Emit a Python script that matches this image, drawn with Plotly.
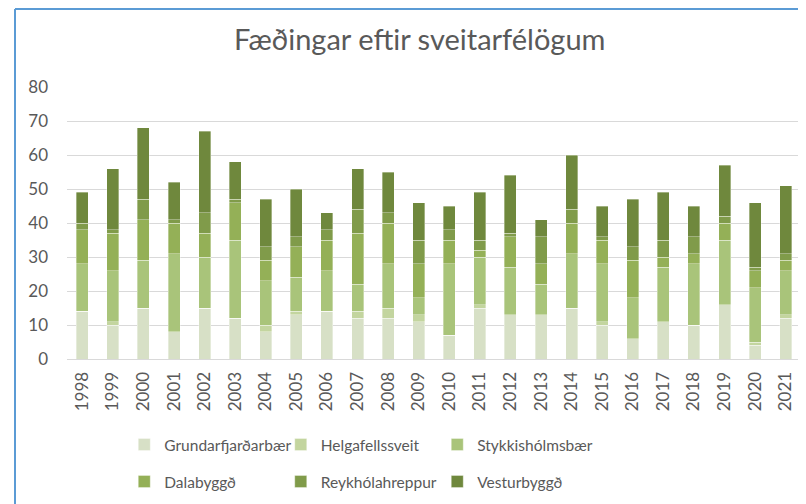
import plotly.graph_objects as go

years = [str(y) for y in range(1998, 2022)]

grundarfjardarbaer = [14, 10, 15, 8, 15, 12, 8, 13, 14, 12, 12, 11, 7, 15, 13, 13, 15, 10, 6, 11, 10, 16, 4, 12]
helgafellssveit = [0, 1, 0, 0, 0, 0, 2, 1, 0, 2, 3, 2, 0, 1, 0, 0, 0, 1, 0, 0, 0, 0, 1, 1]
stykkisholmsbaer = [14, 15, 14, 23, 15, 23, 13, 10, 12, 8, 13, 5, 21, 14, 14, 9, 16, 17, 12, 16, 18, 19, 16, 13]
dalabyggd = [10, 11, 12, 9, 7, 11, 6, 9, 9, 15, 12, 10, 7, 2, 9, 6, 9, 7, 11, 3, 3, 5, 5, 3]
reykholahreppur = [2, 1, 6, 1, 6, 1, 4, 3, 3, 7, 3, 7, 3, 3, 1, 8, 4, 1, 4, 5, 5, 2, 1, 2]
vesturbyggd = [9, 18, 21, 11, 24, 11, 14, 14, 5, 12, 12, 11, 7, 14, 17, 5, 16, 9, 14, 14, 9, 15, 19, 20]

series = [
    ("Grundarfjarðarbær", grundarfjardarbaer, "#D7E0C6", "legend"),
    ("Helgafellssveit", helgafellssveit, "#C3D59F", "legend"),
    ("Stykkishólmsbær", stykkisholmsbaer, "#A9C47A", "legend"),
    ("Dalabyggð", dalabyggd, "#94B057", "legend2"),
    ("Reykhólahreppur", reykholahreppur, "#809B4A", "legend2"),
    ("Vesturbyggð", vesturbyggd, "#6F883D", "legend2"),
]

FONT = "Lato, Arial, sans-serif"
GREY = "#595959"

fig = go.Figure()
for name, vals, color, leg in series:
    fig.add_trace(go.Bar(
        x=years, y=vals, name=name, legend=leg,
        marker=dict(color=color, line=dict(width=0.5, color="rgba(255,255,255,0.7)")),
    ))

legend_style = dict(
    orientation="h", xanchor="left", yanchor="middle",
    entrywidth=111.5, entrywidthmode="pixels",
    font=dict(family=FONT, size=15.5, color=GREY),
    bgcolor="rgba(0,0,0,0)", traceorder="normal",
)

# the page body adds 8px around the figure, so the figure is 798x496
fig.update_layout(
    width=798, height=496,
    barmode="stack", bargap=0.61,
    plot_bgcolor="white", paper_bgcolor="white",
    margin=dict(l=59, r=5, t=79, b=145),
    title=dict(text="Fæðingar eftir sveitarfélögum", x=0.516, xanchor="center",
               y=0.935, yanchor="middle",
               font=dict(family=FONT, size=29, color=GREY)),
    font=dict(family=FONT, size=16, color=GREY),
    legend=dict(x=0.078, y=-0.316, **legend_style),
    legend2=dict(x=0.078, y=-0.452, **legend_style),
    xaxis=dict(type="category", tickangle=-90, showgrid=False,
               showline=True, linecolor="#D9D9D9", linewidth=1,
               ticklabelstandoff=5,
               tickfont=dict(family=FONT, size=17, color=GREY)),
    yaxis=dict(range=[0, 80], dtick=10, showgrid=True, gridcolor="#D9D9D9",
               gridwidth=1, zeroline=False, ticklabelstandoff=18,
               tickfont=dict(family=FONT, size=17, color=GREY)),
)

# selection frame (left and top edges)
frame = dict(type="line", xref="paper", yref="paper", xsizemode="pixel", ysizemode="pixel",
             line=dict(color="#5B9BD5", width=2))
fig.add_shape(xanchor=0, yanchor=1, x0=-52, x1=-52, y0=78, y1=-430, **frame)
fig.add_shape(xanchor=0, yanchor=1, x0=-52, x1=745, y0=78, y1=78, **frame)

fig.write_html("out.html")
